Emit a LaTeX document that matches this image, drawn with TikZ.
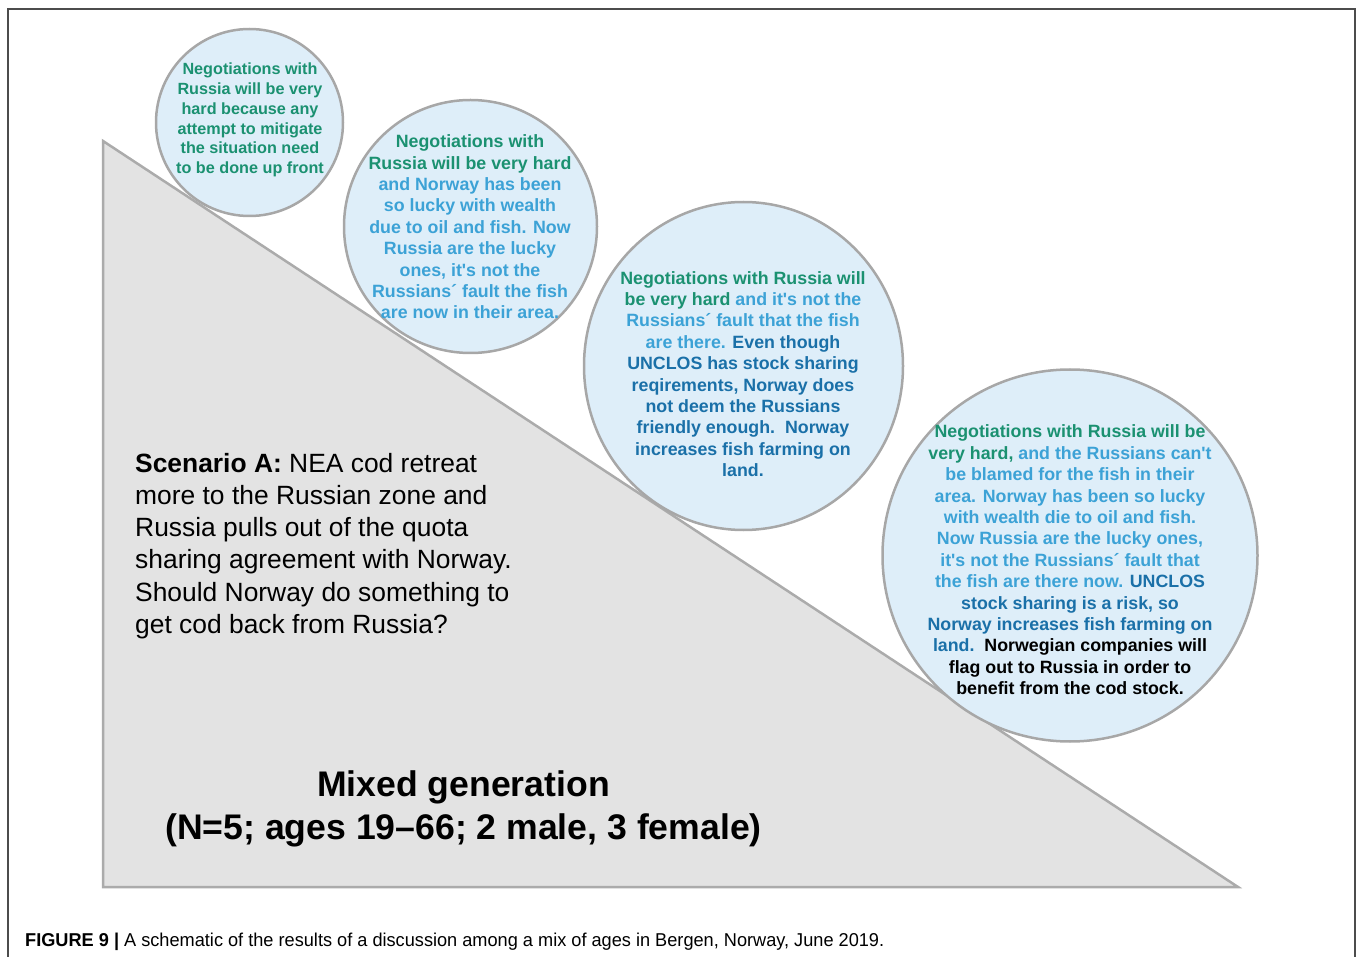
\documentclass[tikz,border=0pt]{standalone}
\usepackage{fontspec}
\setmainfont{Liberation Sans}[Ligatures=TeXOff]
\usepackage{tikz}
\usetikzlibrary{shapes.geometric,positioning}
\definecolor{negGreen}{HTML}{1B9171}
\definecolor{negLight}{HTML}{3CA2D6}
\definecolor{negDark}{HTML}{1A70A8}
\definecolor{bubFill}{HTML}{DEEEF9}
\definecolor{bubLine}{HTML}{A7A7A7}
\definecolor{triFill}{HTML}{E3E3E3}
\definecolor{triLine}{HTML}{ABABAB}
\newcommand{\cgr}{\color{negGreen}}
\newcommand{\clb}{\color{negLight}}
\newcommand{\cdb}{\color{negDark}}
\newcommand{\cbk}{\color{black}}

\begin{document}
\begin{tikzpicture}[x=1pt, y=-1pt,
	bubble/.style = {ellipse, draw=bubLine, fill=bubFill, line width=2.5pt, inner sep=0pt},
	bubtext/.style = {align=center, inner sep=0pt, font=\bfseries\fontsize{17.8}{21.4}\selectfont}]
		\useasboundingbox (0,0) rectangle (1358,957);
		\draw[line width=1.5pt, black!70] (8,957) -- (8,9) -- (1355,9) -- (1355,957);
		% the slope
		\draw[fill=triFill, draw=triLine, line width=2.5pt] (103,141) -- (103,887) -- (1238,887) -- cycle;
		\node[bubble, minimum width=187pt, minimum height=187pt] (N1) at (249.5,122.5) {};
		\node[bubble, minimum width=253pt, minimum height=253pt] (N2) at (470.5,226.5) {};
		\node[bubble, minimum width=319pt, minimum height=328pt] (N3) at (743.5,366) {};
		\node[bubble, minimum width=375pt, minimum height=372pt] (N4) at (1070,555.5) {};
		\node[bubtext, font=\bfseries\fontsize{16.2}{19.7}\selectfont] (T1) at (250,120) {%
			\cgr Negotiations with\\ \cgr Russia will be very\\ \cgr hard because any\\
			\cgr attempt to mitigate\\ \cgr the situation need\\ \cgr to be done up front};
		\node[bubtext] (T2) at (470,227) {%
			\cgr Negotiations with\\ \cgr Russia will be very hard\\ \clb and Norway has been\\
			\clb so lucky with wealth\\ \clb due to oil and fish. Now\\ \clb Russia are the lucky\\
			\clb ones, it's not the\\ \clb Russians´ fault the fish\\ \clb are now in their area.};
		\node[bubtext] (T3) at (743,374) {%
			\cgr Negotiations with Russia will\\ \cgr be very hard \clb and it's not the\\
			\clb Russians´ fault that the fish\\ \clb are there. \cdb Even though\\
			\cdb UNCLOS has stock sharing\\ \cdb reqirements, Norway does\\ \cdb not deem the Russians\\
			\cdb friendly enough.\ \ Norway\\ \cdb increases fish farming on\\ \cdb land.};
		\node[bubtext] (T4) at (1070,560) {%
			\cgr Negotiations with Russia will be\\ \cgr very hard, \clb and the Russians can't\\
			\clb be blamed for the fish in their\\ \clb area. Norway has been so lucky\\
			\clb with wealth die to oil and fish.\\ \clb Now Russia are the lucky ones,\\
			\clb it's not the Russians´ fault that\\ \clb the fish are there now. \cdb UNCLOS\\
			\cdb stock sharing is a risk, so\\ \cdb Norway increases fish farming on\\
			\cdb land.\ \ \cbk Norwegian companies will\\ \cbk flag out to Russia in order to\\
			\cbk benefit from the cod stock.};
		% scenario and group
		\node[anchor=north west, align=left, inner sep=0pt, font=\fontsize{26.4}{32.3}\selectfont] (S) at (135,452.7) {%
			\textbf{Scenario A:} NEA cod retreat\\ more to the Russian zone and\\ Russia pulls out of the quota\\
			sharing agreement with Norway.\\ Should Norway do something to\\ get cod back from Russia?};
		\node[align=center, inner sep=0pt, font=\bfseries\fontsize{35.6}{43}\selectfont] (M) at (463.5,809) {%
			Mixed generation\\ (N=5; ages 19–66; 2 male, 3 female)};
		\node[anchor=base west, inner sep=0pt, font=\fontsize{18.6}{22}\selectfont] (F) at (25,946.5) {%
			\resizebox{859pt}{\height}{\textbf{FIGURE 9 |} A schematic of the results of a discussion among a mix of ages in Bergen, Norway, June 2019.}};
	\end{tikzpicture}
\end{document}
